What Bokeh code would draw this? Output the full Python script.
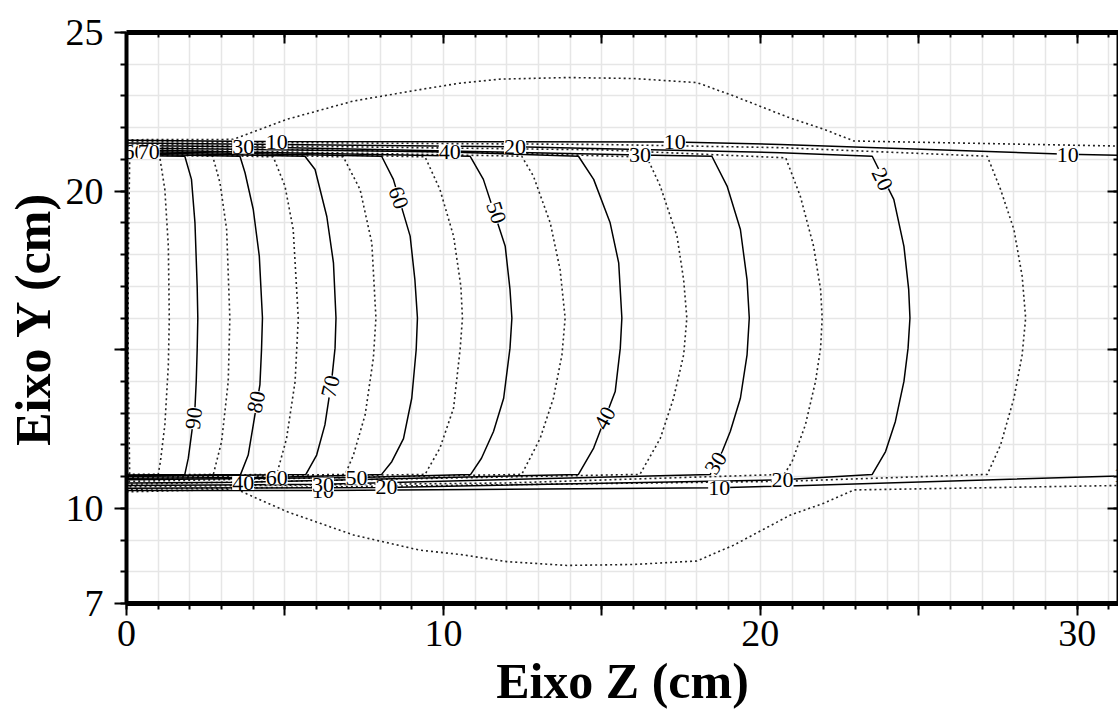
from bokeh.plotting import figure
from bokeh.models import Range1d, LinearAxis, FixedTicker, SingleIntervalTicker, Grid
from bokeh.core.properties import value
from bokeh.embed import file_html
from bokeh.resources import INLINE

SERIF = "Liberation Serif"

# ---------------- data: isodose curves (z = depth cm, y = lateral cm)
iso90_z = [0.0, 1.84, 2.05, 2.16, 2.23, 2.25, 2.23, 2.20, 2.16, 2.02, 1.95, 1.84, 0.0]
iso90_y = [21.12, 21.10, 20.37, 19.00, 17.00, 16.00, 15.00, 14.00, 13.16, 12.10, 11.58, 11.07, 11.05]
iso80_z = [0.0, 3.58, 3.74, 4.00, 4.19, 4.29, 4.26, 4.21, 4.00, 3.84, 3.60, 0.0]
iso80_y = [21.17, 21.10, 20.58, 19.42, 17.95, 16.00, 15.00, 13.90, 12.63, 11.68, 11.07, 11.03]
iso70_z = [0.0, 5.63, 5.95, 6.32, 6.53, 6.61, 6.58, 6.47, 6.26, 6.00, 5.66, 0.0]
iso70_y = [21.22, 21.10, 20.68, 19.20, 17.74, 16.00, 15.05, 14.00, 12.63, 11.68, 11.07, 11.00]
iso60_z = [0.0, 8.05, 8.42, 8.95, 9.10, 9.18, 9.14, 9.00, 8.74, 8.37, 8.05, 4.74, 0.0]
iso60_y = [21.26, 21.10, 20.37, 18.58, 17.20, 16.00, 15.00, 13.47, 12.20, 11.47, 11.07, 10.98, 10.95]
iso50_z = [0.0, 10.84, 11.26, 11.95, 12.10, 12.16, 12.10, 11.90, 11.58, 11.20, 10.86, 7.26, 0.0]
iso50_y = [21.30, 21.10, 20.37, 18.26, 16.90, 16.00, 15.05, 13.47, 12.42, 11.58, 11.07, 10.97, 10.90]
iso40_z = [0.0, 10.2, 14.26, 14.74, 15.26, 15.53, 15.63, 15.58, 15.42, 14.74, 14.26, 3.68, 0.0]
iso40_y = [21.36, 21.23, 21.10, 20.37, 19.00, 17.74, 16.00, 15.05, 13.68, 11.90, 11.07, 10.82, 10.80]
iso30_z = [0.0, 3.68, 16.2, 18.47, 18.95, 19.37, 19.58, 19.65, 19.58, 19.37, 19.05, 18.80, 18.42, 6.2, 0.0]
iso30_y = [21.44, 21.40, 21.14, 21.10, 20.16, 18.79, 17.20, 16.00, 14.84, 13.47, 12.42, 11.80, 11.07, 10.76, 10.72]
iso20_z = [0.0, 12.26, 20.63, 23.53, 24.21, 24.53, 24.68, 24.72, 24.66, 24.53, 24.26, 23.95, 23.53, 20.7, 8.2, 0.0]
iso20_y = [21.52, 21.40, 21.21, 21.10, 19.74, 18.26, 16.90, 16.00, 15.05, 14.00, 12.74, 11.79, 11.07, 10.90, 10.66, 10.63]
iso10_top_z = [0.0, 4.74, 17.3, 20.63, 29.7, 31.3]
iso10_top_y = [21.60, 21.56, 21.55, 21.47, 21.16, 21.13]
iso10_bot_z = [0.0, 6.2, 18.7, 20.63, 31.3]
iso10_bot_y = [10.56, 10.56, 10.65, 10.70, 11.02]

iso100_z = [0.10, 0.06, 0.05, 0.06, 0.10]
iso100_y = [21.07, 18.00, 16.00, 14.00, 11.07]
iso95_z = [0.0, 1.05, 1.21, 1.32, 1.35, 1.32, 1.21, 1.07, 1.00, 0.0]
iso95_y = [21.10, 21.07, 20.05, 18.26, 16.00, 14.50, 12.63, 11.47, 11.07, 11.07]
iso85_z = [0.0, 2.72, 2.95, 3.16, 3.26, 3.21, 3.00, 2.74, 0.0]
iso85_y = [21.15, 21.10, 20.26, 18.79, 16.00, 14.00, 12.10, 11.07, 11.04]
iso75_z = [0.0, 4.63, 5.00, 5.26, 5.42, 5.32, 5.05, 4.74, 0.0]
iso75_y = [21.20, 21.08, 20.16, 18.79, 16.00, 14.00, 12.20, 11.07, 11.02]
iso65_z = [0.0, 6.84, 7.37, 7.74, 7.87, 7.79, 7.53, 7.16, 6.90, 0.0]
iso65_y = [21.24, 21.08, 20.05, 18.37, 16.00, 14.74, 12.95, 11.68, 11.07, 10.97]
iso55_z = [0.0, 9.42, 9.89, 10.32, 10.55, 10.60, 10.53, 10.32, 9.89, 9.42, 0.0]
iso55_y = [21.28, 21.08, 20.05, 18.58, 17.00, 16.00, 15.05, 13.16, 11.90, 11.07, 10.93]
iso45_z = [0.0, 12.47, 12.84, 13.37, 13.68, 13.84, 13.74, 13.47, 13.05, 12.47, 0.0]
iso45_y = [21.33, 21.10, 20.47, 19.00, 17.53, 16.00, 14.84, 13.47, 12.20, 11.07, 10.85]
iso35_z = [0.0, 12.0, 16.42, 16.84, 17.37, 17.58, 17.68, 17.58, 17.26, 16.84, 16.20, 0.0]
iso35_y = [21.40, 21.20, 21.07, 20.16, 18.58, 17.20, 16.00, 14.84, 13.47, 12.20, 11.07, 10.76]
iso25_z = [0.0, 15.0, 20.8, 21.26, 21.68, 21.90, 21.95, 21.90, 21.74, 21.42, 21.00, 20.75, 12.0, 0.0]
iso25_y = [21.48, 21.30, 21.05, 19.84, 18.26, 16.90, 16.00, 15.05, 14.00, 12.63, 11.47, 11.07, 10.80, 10.68]
iso15_z = [0.0, 15.0, 20.63, 27.16, 27.58, 28.00, 28.26, 28.37, 28.26, 28.00, 27.58, 27.16, 20.7, 0.0]
iso15_y = [21.56, 21.47, 21.37, 21.10, 20.05, 18.79, 17.32, 16.00, 14.84, 13.47, 12.00, 11.07, 10.85, 10.60]
iso5_top_z = [0.0, 3.37, 5.05, 7.16, 9.26, 10.5, 11.8, 13.9, 16.0, 18.0, 19.16, 20.95, 22.0, 22.95, 31.3]
iso5_top_y = [21.62, 21.63, 22.26, 22.84, 23.20, 23.40, 23.53, 23.58, 23.55, 23.42, 23.00, 22.30, 21.95, 21.58, 21.42]
iso5_bot_z = [0.0, 3.47, 5.05, 7.16, 9.26, 10.5, 12.0, 13.9, 16.0, 18.0, 19.16, 20.95, 22.0, 22.95, 31.3]
iso5_bot_y = [10.52, 10.60, 9.90, 9.16, 8.68, 8.55, 8.32, 8.20, 8.23, 8.34, 8.84, 9.79, 10.16, 10.58, 10.72]

# contour labels (text, z, y, rotation in degrees)
label_text = ["60", "70", "30", "10", "40", "20", "30", "10", "10",
              "40", "60", "10", "30", "50", "20", "10", "20", "10",
              "90", "80", "70", "60", "50", "40", "30", "20"]
label_z = [0.25, 0.70, 3.68, 4.74, 10.2, 12.26, 16.2, 17.3, 29.7,
           3.68, 4.74, 6.2, 6.2, 7.26, 8.2, 18.7, 20.7, 31.5,
           2.13, 4.10, 6.44, 8.58, 11.66, 15.10, 18.60, 23.84]
label_y = [21.24, 21.23, 21.40, 21.54, 21.23, 21.40, 21.14, 21.55, 21.15,
           10.80, 10.97, 10.55, 10.75, 10.97, 10.66, 10.65, 10.88, 11.04,
           12.84, 13.35, 13.84, 19.79, 19.32, 12.84, 11.42, 20.37]
label_angle = [0, 0, 0, 0, 0, 0, 0, 0, 0,
               0, 0, 0, 0, 0, 0, 0, 0, 0,
               84, 78, 77, -70, -72, 62, 58, -64]

x_ticks = [0, 5, 10, 15, 20, 25, 30]
x_tick_labels = {5: "", 15: "", 25: ""}
y_ticks = [7, 10, 15, 20, 25]
y_tick_labels = {15: ""}

solid_curves = [(iso90_z, iso90_y), (iso80_z, iso80_y), (iso70_z, iso70_y), (iso60_z, iso60_y),
                (iso50_z, iso50_y), (iso40_z, iso40_y), (iso30_z, iso30_y), (iso20_z, iso20_y),
                (iso10_top_z, iso10_top_y), (iso10_bot_z, iso10_bot_y)]
dotted_curves = [(iso100_z, iso100_y), (iso95_z, iso95_y), (iso85_z, iso85_y), (iso75_z, iso75_y),
                 (iso65_z, iso65_y), (iso55_z, iso55_y), (iso45_z, iso45_y), (iso35_z, iso35_y),
                 (iso25_z, iso25_y), (iso15_z, iso15_y), (iso5_top_z, iso5_top_y), (iso5_bot_z, iso5_bot_y)]

# ---------------- figure
p = figure(width=1118, height=725, x_range=Range1d(0, 31.3), y_range=Range1d(7, 25),
           output_backend="svg", toolbar_location=None,
           min_border_left=126, min_border_right=0, min_border_top=32, min_border_bottom=122)
p.outline_line_color = None
p.xgrid.visible = False
p.ygrid.visible = False
p.add_layout(Grid(dimension=0, ticker=SingleIntervalTicker(interval=1),
                  grid_line_color="#e6e6e6", grid_line_width=1.5))
p.add_layout(Grid(dimension=1, ticker=SingleIntervalTicker(interval=1),
                  grid_line_color="#e6e6e6", grid_line_width=1.5))

for zs, ys in dotted_curves:
    p.line(zs, ys, line_color="#222222", line_width=1.6, line_dash="2 3")
for zs, ys in solid_curves:
    p.line(zs, ys, line_color="black", line_width=1.5)

p.text(x=label_z, y=label_y, text=label_text, angle=label_angle, angle_units="deg",
       text_font=value(SERIF), text_font_size="22px", text_color="black",
       text_align="center", text_baseline="middle",
       background_fill_color="white")

def style_axis(ax, ticks, overrides, side):
    ax.ticker = FixedTicker(ticks=ticks, minor_ticks=list(range(int(min(ticks)), 32)))
    ax.axis_line_color = "black"
    ax.major_tick_line_color = "black"
    ax.minor_tick_line_color = "black"
    ax.major_tick_line_width = 2
    ax.minor_tick_line_width = 2
    if side in ("below", "left"):
        ax.major_tick_out = 12
        ax.major_tick_in = 0
        ax.minor_tick_out = 6
        ax.minor_tick_in = 0
        ax.major_label_overrides = overrides
        ax.major_label_text_font = SERIF
        ax.major_label_text_font_size = "38px"
        ax.major_label_text_color = "black"
    else:
        ax.major_tick_out = 0
        ax.major_tick_in = 11
        ax.minor_tick_out = 0
        ax.minor_tick_in = 5
        ax.major_label_text_font_size = "8px"
        ax.major_label_text_color = None
        ax.major_label_standoff = 0

xb = p.xaxis[0]
style_axis(xb, x_ticks, x_tick_labels, "below")
xb.axis_line_width = 5
xb.major_label_standoff = 5
xb.axis_label = "Eixo Z (cm)"
xb.axis_label_text_font = SERIF
xb.axis_label_text_font_style = "bold"
xb.axis_label_text_font_size = "50px"
xb.axis_label_text_color = "black"
xb.axis_label_standoff = 4

yl = p.yaxis[0]
style_axis(yl, y_ticks, y_tick_labels, "left")
yl.axis_line_width = 4
yl.major_label_standoff = 11
yl.axis_label = "Eixo Y (cm)"
yl.axis_label_text_font = SERIF
yl.axis_label_text_font_style = "bold"
yl.axis_label_text_font_size = "50px"
yl.axis_label_text_color = "black"
yl.axis_label_standoff = 2

xt = LinearAxis()
style_axis(xt, x_ticks, {}, "above")
xt.axis_line_width = 5
p.add_layout(xt, "above")

yr = LinearAxis()
style_axis(yr, y_ticks, {}, "right")
yr.axis_line_width = 4
p.add_layout(yr, "right")

open("out.html", "w").write(file_html(p, INLINE))
